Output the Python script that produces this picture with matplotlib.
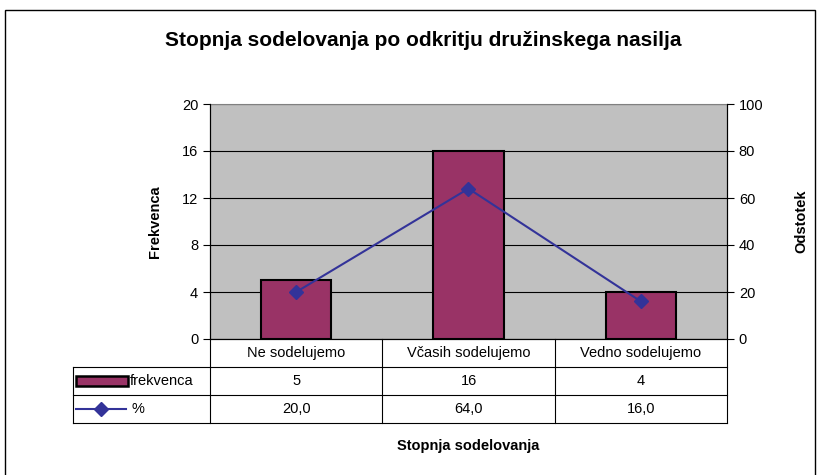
import numpy as np
import matplotlib.pyplot as plt
from matplotlib.lines import Line2D
from matplotlib.patches import Rectangle

plt.rcParams['font.family'] = ['Liberation Sans', 'DejaVu Sans']

kategorije = ['Ne sodelujemo', 'Včasih sodelujemo', 'Vedno sodelujemo']
frekvenca = [5, 16, 4]
odstotek = [20.0, 64.0, 16.0]

W, H = 819, 475
fig = plt.figure(figsize=(W / 100, H / 100), dpi=100)

# plot area in pixels
L, R, T, B = 210, 727, 104, 339
ax = fig.add_axes([L / W, 1 - B / H, (R - L) / W, (B - T) / H])
ax.set_facecolor('#C0C0C0')

x = np.arange(len(kategorije))
ax.bar(x, frekvenca, width=0.41, color='#993366', edgecolor='black', linewidth=1.5, zorder=3)
ax.set_xlim(-0.5, 2.5)
ax.set_ylim(0, 20)
ax.set_yticks(range(0, 21, 4))
ax.yaxis.grid(True, color='black', linewidth=0.8, zorder=0)
ax.set_axisbelow(True)
ax.set_xticks([])
ax.tick_params(axis='y', direction='out', length=5, labelsize=10.5, width=0.8)
ax.set_ylabel('Frekvenca', fontsize=10.5, fontweight='bold', labelpad=14)
for s in ['left', 'right', 'bottom']:
    ax.spines[s].set_color('black')
ax.spines['top'].set_color('#808080')

ax2 = ax.twinx()
ax2.plot(x, odstotek, color='#333399', linewidth=1.5, marker='D', markersize=7.5,
         markerfacecolor='#333399', markeredgecolor='#333399', zorder=4)
ax2.set_ylim(0, 100)
ax2.set_yticks(range(0, 101, 20))
ax2.tick_params(axis='y', direction='out', length=5, labelsize=10.5, width=0.8)
ax2.set_ylabel('Odstotek', fontsize=10.5, fontweight='bold', labelpad=22)
ax2.spines['top'].set_visible(False)

fig.suptitle('Stopnja sodelovanja po odkritju družinskega nasilja', x=423 / W,
             y=1 - 40 / H, va='center', fontsize=15, fontweight='bold')


def fx(px):
    return px / W


def fy(py):
    return 1 - py / H


def hline(x0, x1, y):
    fig.add_artist(Line2D([fx(x0), fx(x1)], [fy(y), fy(y)], color='black', linewidth=0.8))


def vline(x, y0, y1):
    fig.add_artist(Line2D([fx(x), fx(x)], [fy(y0), fy(y1)], color='black', linewidth=0.8))


# data table
T0, rh = 339, 28
cw = (R - L) / len(kategorije)
TL = 73
hline(TL, R, T0 + rh)
hline(TL, R, T0 + 2 * rh)
hline(TL, R, T0 + 3 * rh)
vline(TL, T0 + rh, T0 + 3 * rh)
for i in range(len(kategorije) + 1):
    vline(L + i * cw, T0, T0 + 3 * rh)

for i, k in enumerate(kategorije):
    cx = fx(L + (i + 0.5) * cw)
    fig.text(cx, fy(T0 + rh / 2), k, ha='center', va='center', fontsize=10.5)
    fig.text(cx, fy(T0 + 1.5 * rh), str(frekvenca[i]), ha='center', va='center', fontsize=10.5)
    fig.text(cx, fy(T0 + 2.5 * rh), f'{odstotek[i]:.1f}'.replace('.', ','),
             ha='center', va='center', fontsize=10.5)

# legend keys in the table
fig.add_artist(Rectangle((fx(76), fy(T0 + 1.5 * rh + 5)), fx(52), 10 / H,
                         facecolor='#993366', edgecolor='black', linewidth=1.8))
fig.text(fx(130), fy(T0 + 1.5 * rh), 'frekvenca', ha='left', va='center', fontsize=10.5)
fig.add_artist(Line2D([fx(76), fx(126)], [fy(T0 + 2.5 * rh)] * 2, color='#333399', linewidth=1.5))
fig.add_artist(Line2D([fx(101)], [fy(T0 + 2.5 * rh)], marker='D', markersize=7.5,
                      color='#333399', linestyle='none'))
fig.text(fx(131), fy(T0 + 2.5 * rh), '%', ha='left', va='center', fontsize=10.5)

fig.text((L + R) / 2 / W, fy(446), 'Stopnja sodelovanja', ha='center', va='center',
         fontsize=10.5, fontweight='bold')

# outer chart border
fig.add_artist(Rectangle((fx(5), fy(480)), fx(810), 470 / H, facecolor='none',
                         edgecolor='black', linewidth=1.0))

fig.savefig('out.png', dpi=100)
